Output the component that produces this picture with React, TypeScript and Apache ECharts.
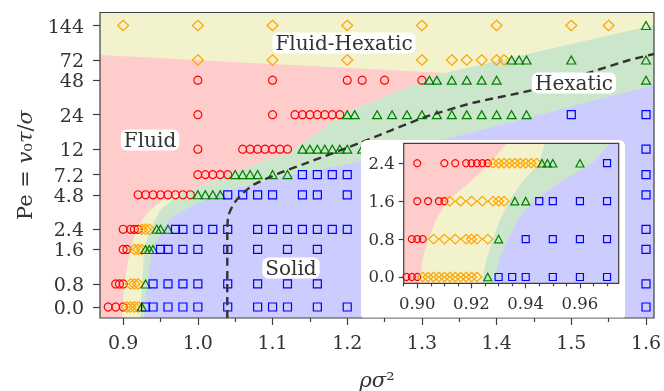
import React, { useEffect, useRef } from 'react';
import * as echarts from 'echarts';

// ---------- tick values / labels ----------
const PE_TICKS = [0, 0.8, 1.6, 2.4, 4.8, 7.2, 12, 24, 48, 72, 144];
const PE_TICK_LABELS = ['0.0', '0.8', '1.6', '2.4', '4.8', '7.2', '12', '24', '48', '72', '144'];
const RHO_TICKS = [0.9, 1.0, 1.1, 1.2, 1.3, 1.4, 1.5, 1.6];
const RHO_TICK_LABELS = ['0.9', '1.0', '1.1', '1.2', '1.3', '1.4', '1.5', '1.6'];
const RHO_MINOR_TICKS = [0.95, 1.05, 1.15, 1.25, 1.35, 1.45, 1.55];
const INSET_RHO_TICKS = [0.9, 0.92, 0.94, 0.96];
const INSET_RHO_TICK_LABELS = ['0.90', '0.92', '0.94', '0.96'];
const INSET_RHO_MINOR_TICKS = [0.895, 0.905, 0.91, 0.915, 0.925, 0.93, 0.935, 0.945, 0.95, 0.955, 0.965, 0.97];
const INSET_PE_TICKS = [0, 0.8, 1.6, 2.4];
const INSET_PE_TICK_LABELS = ['0.0', '0.8', '1.6', '2.4'];

// ---------- main panel data: [Pe, densities] ----------
const MAIN_FLUID: [number, number[]][] = [
  [0, [0.88, 0.89, 0.9]],
  [0.8, [0.89, 0.895, 0.9]],
  [1.6, [0.9, 0.905]],
  [2.4, [0.9, 0.91, 0.915, 0.92]],
  [4.8, [0.92, 0.93, 0.94, 0.95, 0.96, 0.97, 0.98, 0.99]],
  [7.2, [1.0, 1.01, 1.02, 1.03, 1.04]],
  [12, [1.0, 1.06, 1.07, 1.08, 1.09, 1.1, 1.11, 1.12]],
  [24, [1.0, 1.1, 1.13, 1.14, 1.15, 1.16, 1.17, 1.18, 1.19]],
  [48, [1.0, 1.1, 1.2, 1.22, 1.25, 1.3]],
];
const MAIN_FLUID_HEXATIC: [number, number[]][] = [
  [0, [0.905, 0.91, 0.915, 0.92]],
  [0.8, [0.91, 0.915, 0.92]],
  [1.6, [0.915, 0.92, 0.925]],
  [2.4, [0.925, 0.93, 0.935]],
  [72, [1.0, 1.1, 1.2, 1.3, 1.34, 1.36, 1.38, 1.4, 1.41]],
  [144, [0.9, 1.0, 1.1, 1.2, 1.3, 1.4, 1.5, 1.55]],
];
const MAIN_HEXATIC: [number, number[]][] = [
  [0, [0.925]],
  [0.8, [0.93]],
  [1.6, [0.93, 0.935, 0.94]],
  [2.4, [0.945, 0.95, 0.96]],
  [4.8, [1.0, 1.01, 1.02, 1.03]],
  [7.2, [1.05, 1.06, 1.07, 1.08, 1.1, 1.12]],
  [12, [1.14, 1.15, 1.16, 1.17, 1.18, 1.19, 1.2, 1.22]],
  [24, [1.2, 1.21, 1.24, 1.26, 1.28, 1.3, 1.32, 1.34, 1.36, 1.38, 1.4, 1.42, 1.44]],
  [48, [1.31, 1.32, 1.34, 1.36, 1.38, 1.4, 1.6]],
  [72, [1.42, 1.43, 1.44, 1.5, 1.6]],
  [144, [1.6]],
];
const MAIN_SOLID: [number, number[]][] = [
  [0, [0.93, 0.94, 0.96, 0.98, 1.0, 1.04, 1.08, 1.1, 1.12, 1.16, 1.2, 1.6]],
  [0.8, [0.94, 0.96, 0.98, 1.0, 1.04, 1.08, 1.12, 1.16, 1.6]],
  [1.6, [0.95, 0.96, 0.98, 1.0, 1.04, 1.08, 1.12, 1.16, 1.6]],
  [2.4, [0.97, 0.98, 1.0, 1.02, 1.04, 1.08, 1.1, 1.12, 1.14, 1.16, 1.18, 1.2, 1.6]],
  [4.8, [1.04, 1.06, 1.08, 1.1, 1.14, 1.16, 1.2, 1.6]],
  [7.2, [1.14, 1.16, 1.18, 1.2, 1.6]],
  [12, [1.6]],
  [24, [1.5, 1.6]],
];

// ---------- inset data ----------
const INSET_FLUID: [number, number[]][] = [
  [0, [0.896, 0.898, 0.9]],
  [0.8, [0.898, 0.9, 0.902]],
  [1.6, [0.9, 0.904, 0.908, 0.91]],
  [2.4, [0.9, 0.91, 0.914, 0.918, 0.92, 0.922, 0.924, 0.926]],
];
const INSET_FLUID_HEXATIC: [number, number[]][] = [
  [0, [0.902, 0.904, 0.906, 0.908, 0.91, 0.912, 0.914, 0.916, 0.918, 0.92, 0.922]],
  [0.8, [0.906, 0.91, 0.914, 0.918, 0.92, 0.922, 0.926]],
  [1.6, [0.912, 0.916, 0.92, 0.924, 0.928, 0.93, 0.932]],
  [2.4, [0.928, 0.93, 0.932, 0.934, 0.936, 0.938, 0.94, 0.942, 0.944]],
];
const INSET_HEXATIC: [number, number[]][] = [
  [0, [0.926]],
  [0.8, [0.93]],
  [1.6, [0.936, 0.94]],
  [2.4, [0.946, 0.948, 0.95, 0.96]],
];
const INSET_SOLID: [number, number[]][] = [
  [0, [0.93, 0.935, 0.94, 0.95, 0.96, 0.97]],
  [0.8, [0.94, 0.95, 0.96, 0.97]],
  [1.6, [0.945, 0.95, 0.96, 0.97]],
  [2.4, [0.97]],
];

// ---------- phase regions [rho, Pe] ----------
const RHO_MIN = 0.869, RHO_MAX = 1.6107, PE_MIN = -0.383, PE_MAX = 187;
const MAIN_FLUID_REGION: [number, number][] = [
  [RHO_MIN, PE_MIN], [RHO_MIN, 79.6], [1.3305, 55.5], [1.3037, 48.2], [1.1941, 24.3], [1.13, 12.05],
  [1.0444, 7.29], [0.979, 4.88], [0.9535, 4.32], [0.936, 3.54], [0.9254, 2.89], [0.9187, 2.41],
  [0.9094, 1.61], [0.9013, 0.8], [0.8987, PE_MIN],
];
const MAIN_HEXATIC_REGION: [number, number][] = [
  [0.9227, PE_MIN], [0.9254, 0.8], [0.9281, 1.61], [0.936, 2.41], [0.9428, 2.89], [0.9495, 3.54],
  [0.9655, 4.32], [0.979, 4.88], [1.0444, 7.29], [1.13, 12.05], [1.1941, 24.3], [1.3037, 48.2],
  [1.3305, 55.5], [RHO_MAX, 145.5], [RHO_MAX, PE_MIN],
];
const MAIN_SOLID_REGION: [number, number][] = [
  [0.9281, PE_MIN], [0.932, 0.8], [0.9388, 1.61], [0.9535, 2.41], [0.9628, 3.01], [0.9896, 3.76],
  [1.0324, 5.08], [1.1233, 7.14], [1.2209, 9.47], [RHO_MAX, 43.6], [RHO_MAX, PE_MIN],
];
const MAIN_BASE_REGION: [number, number][] = [
  [RHO_MIN, PE_MIN], [RHO_MIN, PE_MAX], [RHO_MAX, PE_MAX], [RHO_MAX, PE_MIN],
];
const BOUNDARY_LINE: [number, number][] = [
  [1.0394, PE_MIN], [1.0394, 1.82], [1.0404, 3.07], [1.047, 3.91], [1.0564, 4.68], [1.0738, 5.84],
  [1.1099, 7.44], [1.1527, 9.47], [1.2168, 13.6], [1.3011, 22.5], [1.3679, 30.4], [1.4481, 39.4],
  [1.5778, 72.0], [RHO_MAX, 81.2],
];

const IN_RHO_MIN = 0.895, IN_RHO_MAX = 0.9743, IN_PE_MIN = -0.133, IN_PE_MAX = 2.82;
const INSET_BASE_REGION: [number, number][] = [
  [IN_RHO_MIN, IN_PE_MIN], [IN_RHO_MIN, IN_PE_MAX], [IN_RHO_MAX, IN_PE_MAX], [IN_RHO_MAX, IN_PE_MIN],
];
const INSET_FLUID_REGION: [number, number][] = [
  [IN_RHO_MIN, IN_PE_MIN], [IN_RHO_MIN, IN_PE_MAX], [0.933, IN_PE_MAX], [0.9268, 2.4], [0.9194, 2.0],
  [0.911, 1.6], [0.9069, 1.2], [0.904, 0.8], [0.9021, 0.4], [0.901, 0], [0.9006, IN_PE_MIN],
];
const INSET_HEXATIC_REGION: [number, number][] = [
  [0.9238, IN_PE_MIN], [0.9242, 0], [0.9257, 0.4], [0.9279, 0.8], [0.9305, 1.2], [0.9338, 1.6],
  [0.9386, 2.0], [0.9449, 2.4], [0.9471, IN_PE_MAX], [IN_RHO_MAX, IN_PE_MAX], [IN_RHO_MAX, IN_PE_MIN],
];
const INSET_SOLID_REGION: [number, number][] = [
  [0.9283, IN_PE_MIN], [0.9287, 0], [0.9305, 0.4], [0.9335, 0.8], [0.9371, 1.2], [0.9427, 1.6],
  [0.9527, 2.0], [0.9645, 2.4], [0.9711, IN_PE_MAX], [IN_RHO_MAX, IN_PE_MAX], [IN_RHO_MAX, IN_PE_MIN],
];

// ---------- styles ----------
const FONT = '"DejaVu Serif", serif';
const TEXT = '#333333';
const FRAME = '#404040';
const C_RED = '#ff0000', C_ORANGE = '#ffa500', C_GREEN = '#008000', C_BLUE = '#0000ff';
const F_RED = '#ffcccc', F_YELLOW = '#f2f2cc', F_GREEN = '#cce6cc', F_BLUE = '#ccccff';

// symlog-like transform of Pe
const LIN = 0.667;
const T = (pe: number) => (pe <= 0.8 ? (pe / 0.8) * LIN : LIN + Math.log2(pe / 0.8));
const ID = (v: number) => v;

const fmt = (vals: number[], labels: string[]) => (v: number) => {
  const i = vals.findIndex((t) => Math.abs(t - v) < 1e-6);
  return i >= 0 ? labels[i] : '';
};

const flat = (rows: [number, number[]][], tr: (v: number) => number) =>
  rows.flatMap(([pe, rhos]) => rhos.map((r) => [r, tr(pe)]));

const poly = (pts: [number, number][], fill: string, xi: number, yi: number, z: number, tr: (v: number) => number) => ({
  type: 'custom',
  xAxisIndex: xi,
  yAxisIndex: yi,
  z,
  silent: true,
  data: [[pts[0][0], tr(pts[0][1])]],
  renderItem: (_p: any, api: any) => ({
    type: 'polygon',
    shape: { points: pts.map((p) => api.coord([p[0], tr(p[1])])) },
    style: { fill },
  }),
});

const scatter = (data: number[][], symbol: string, size: any, color: string, xi: number, yi: number, z: number) => ({
  type: 'scatter',
  xAxisIndex: xi,
  yAxisIndex: yi,
  z,
  silent: true,
  symbol,
  symbolSize: size,
  data,
  itemStyle: { color: 'rgba(0,0,0,0)', borderColor: color, borderWidth: 1.2, opacity: 1 },
});

const tickStyle = { color: FRAME, width: 1.2 };

export default function App() {
  const ref = useRef<HTMLDivElement>(null);
  useEffect(() => {
    if (!ref.current) return;
    const chart = echarts.init(ref.current, null, { renderer: 'svg' });
    const labelBox = (text: string, x: number, y: number) => ({
      type: 'text',
      x,
      y,
      z: 5,
      style: {
        text,
        font: `20px ${FONT}`,
        fill: TEXT,
        align: 'center',
        verticalAlign: 'middle',
        backgroundColor: '#ffffff',
        padding: [1, 3, 0, 3],
        borderRadius: 6,
      },
    });
    const option: any = {
      animation: false,
      grid: [
        { left: 100, top: 12.5, width: 554, height: 305.5, show: true, backgroundColor: 'transparent', borderColor: FRAME, borderWidth: 1.2, z: 3, outerBoundsMode: 'none' },
        { left: 403.7, top: 143.3, width: 215, height: 140, show: true, backgroundColor: 'transparent', borderColor: FRAME, borderWidth: 1.2, z: 9, outerBoundsMode: 'none' },
      ],
      xAxis: [
        {
          type: 'value', gridIndex: 0, min: RHO_MIN, max: RHO_MAX, position: 'bottom',
          axisLine: { show: false, onZero: false }, splitLine: { show: false },
          axisTick: { show: true, length: 7, lineStyle: tickStyle, customValues: RHO_TICKS },
          axisLabel: { customValues: RHO_TICKS, formatter: fmt(RHO_TICKS, RHO_TICK_LABELS), margin: 14, fontFamily: FONT, fontSize: 19, color: TEXT },
        },
        {
          type: 'value', gridIndex: 0, min: RHO_MIN, max: RHO_MAX, position: 'bottom',
          axisLine: { show: false, onZero: false }, splitLine: { show: false },
          axisTick: { show: true, length: 4, lineStyle: tickStyle, customValues: RHO_MINOR_TICKS },
          axisLabel: { show: false },
        },
        {
          type: 'value', gridIndex: 1, min: IN_RHO_MIN, max: IN_RHO_MAX, position: 'bottom', z: 9,
          axisLine: { show: false, onZero: false }, splitLine: { show: false },
          axisTick: { show: true, length: 5, lineStyle: tickStyle, customValues: INSET_RHO_TICKS },
          axisLabel: { customValues: INSET_RHO_TICKS, formatter: fmt(INSET_RHO_TICKS, INSET_RHO_TICK_LABELS), margin: 12, fontFamily: FONT, fontSize: 16.5, color: TEXT },
        },
        {
          type: 'value', gridIndex: 1, min: IN_RHO_MIN, max: IN_RHO_MAX, position: 'bottom', z: 9,
          axisLine: { show: false, onZero: false }, splitLine: { show: false },
          axisTick: { show: true, length: 3, lineStyle: tickStyle, customValues: INSET_RHO_MINOR_TICKS },
          axisLabel: { show: false },
        },
      ],
      yAxis: [
        {
          type: 'value', gridIndex: 0, min: T(PE_MIN), max: T(PE_MAX), position: 'left',
          axisLine: { show: false, onZero: false }, splitLine: { show: false },
          axisTick: { show: true, length: 7, lineStyle: tickStyle, customValues: PE_TICKS.map(T) },
          axisLabel: { customValues: PE_TICKS.map(T), formatter: fmt(PE_TICKS.map(T), PE_TICK_LABELS), margin: 16, fontFamily: FONT, fontSize: 19, color: TEXT },
        },
        {
          type: 'value', gridIndex: 1, min: IN_PE_MIN, max: IN_PE_MAX, position: 'left', z: 9,
          axisLine: { show: false, onZero: false }, splitLine: { show: false },
          axisTick: { show: true, length: 5, lineStyle: tickStyle, customValues: INSET_PE_TICKS },
          axisLabel: { customValues: INSET_PE_TICKS, formatter: fmt(INSET_PE_TICKS, INSET_PE_TICK_LABELS), margin: 9, fontFamily: FONT, fontSize: 16.5, color: TEXT },
        },
      ],
      series: [
        poly(MAIN_BASE_REGION, F_YELLOW, 0, 0, 1, T),
        poly(MAIN_FLUID_REGION, F_RED, 0, 0, 1, T),
        poly(MAIN_HEXATIC_REGION, F_GREEN, 0, 0, 1, T),
        poly(MAIN_SOLID_REGION, F_BLUE, 0, 0, 1, T),
        scatter(flat(MAIN_FLUID, T), 'circle', 8, C_RED, 0, 0, 2),
        scatter(flat(MAIN_FLUID_HEXATIC, T), 'diamond', [11, 10.5], C_ORANGE, 0, 0, 2),
        scatter(flat(MAIN_HEXATIC, T), 'triangle', [9, 8], C_GREEN, 0, 0, 2),
        scatter(flat(MAIN_SOLID, T), 'rect', 8, C_BLUE, 0, 0, 2),
        {
          type: 'line', xAxisIndex: 0, yAxisIndex: 0, z: 3, silent: true, symbol: 'none', smooth: 0.2,
          data: BOUNDARY_LINE.map(([r, pe]) => [r, T(pe)]),
          lineStyle: { color: '#333333', width: 2.4, type: [8, 5] },
        },
        poly(INSET_BASE_REGION, F_YELLOW, 2, 1, 6, ID),
        poly(INSET_FLUID_REGION, F_RED, 2, 1, 6, ID),
        poly(INSET_HEXATIC_REGION, F_GREEN, 2, 1, 6, ID),
        poly(INSET_SOLID_REGION, F_BLUE, 2, 1, 6, ID),
        scatter(flat(INSET_FLUID, ID), 'circle', 7, C_RED, 2, 1, 7),
        scatter(flat(INSET_FLUID_HEXATIC, ID), 'diamond', [10, 9.5], C_ORANGE, 2, 1, 7),
        scatter(flat(INSET_HEXATIC, ID), 'triangle', [8, 7.5], C_GREEN, 2, 1, 7),
        scatter(flat(INSET_SOLID, ID), 'rect', 7, C_BLUE, 2, 1, 7),
      ],
      graphic: [
        { type: 'rect', z: 4, shape: { x: 361, y: 140, width: 264, height: 177.4, r: [6, 6, 2, 2] }, style: { fill: '#ffffff' } },
        labelBox('Fluid', 150, 140),
        labelBox('Fluid-Hexatic', 344, 43),
        labelBox('Hexatic', 574, 83),
        labelBox('Solid', 291, 268),
        {
          type: 'text', x: 377, y: 380, z: 5,
          style: {
            text: '{i|ρσ}{n|²}', align: 'center', verticalAlign: 'middle', fill: TEXT,
            rich: { i: { fontFamily: FONT, fontSize: 21, fontStyle: 'italic', fill: TEXT }, n: { fontFamily: FONT, fontSize: 21, fill: TEXT } },
          },
        },
        {
          type: 'text', x: 25, y: 165, z: 5, rotation: Math.PI / 2,
          style: {
            text: '{n|Pe = }{i|v}{n|₀}{i|τ}{n|/}{i|σ}', align: 'center', verticalAlign: 'middle', fill: TEXT,
            rich: { i: { fontFamily: FONT, fontSize: 21, fontStyle: 'italic', fill: TEXT }, n: { fontFamily: FONT, fontSize: 21, fill: TEXT } },
          },
        },
      ],
    };
    chart.setOption(option);
    return () => chart.dispose();
  }, []);
  return <div ref={ref} style={{ position: 'fixed', left: 0, top: 0, width: 664, height: 391 }} />;
}
